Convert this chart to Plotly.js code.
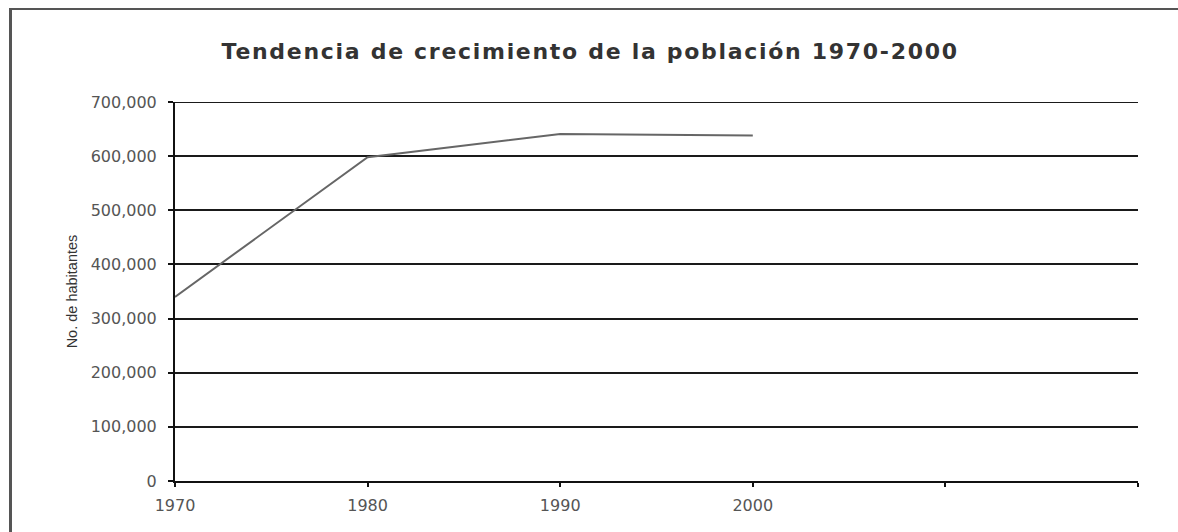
<!DOCTYPE html>
<html>
<head>
<meta charset="utf-8">
<script src="https://cdn.plot.ly/plotly-3.0.1.min.js"></script>
<style>
html,body{margin:0;padding:0;background:#fff;}
#chart{width:1178px;height:532px;}
#frame{position:absolute;left:9px;top:8px;width:1169px;height:524px;border-top:2px solid #555;border-left:3px solid #555;pointer-events:none;box-sizing:border-box;}
.gtitle{letter-spacing:1.7px;}
</style>
</head>
<body>
<div id="chart"></div>
<div id="frame"></div>
<script>
const years = [1970, 1980, 1990, 2000];
const population = [340000, 598000, 641000, 638000];
const xTickVals = [1970, 1980, 1990, 2000, 2010, 2020];
const xTickText = ["1970", "1980", "1990", "2000", "", ""];
const yTickVals = [0, 100000, 200000, 300000, 400000, 500000, 600000, 700000];

const trace = {
  x: years, y: population, type: 'scatter', mode: 'lines',
  line: {color: '#666', width: 2},
  hoverinfo: 'skip'
};

const topValue = yTickVals[yTickVals.length - 1];

const layout = {
  width: 1178, height: 532,
  margin: {l: 175, r: 40, t: 102, b: 51},
  paper_bgcolor: '#fff', plot_bgcolor: '#fff',
  showlegend: false,
  title: {
    text: '<b>Tendencia de crecimiento de la población 1970-2000</b>',
    x: 0.501, xanchor: 'center', xref: 'container',
    y: 48, yref: 'container', yanchor: 'middle',
    font: {family: 'DejaVu Sans, sans-serif', size: 22, color: '#333'}
  },
  shapes: [{
    type: 'line', xref: 'paper', yref: 'y', x0: 0, x1: 1, y0: topValue, y1: topValue,
    line: {color: '#1a1a1a', width: 2}, layer: 'below'
  }],
  xaxis: {
    range: [1970, 2020], tickvals: xTickVals, ticktext: xTickText,
    showgrid: false, zeroline: false,
    showline: true, linecolor: '#111', linewidth: 2,
    ticks: 'outside', ticklen: 4, tickwidth: 2, tickcolor: '#111',
    ticklabelstandoff: 5,
    tickfont: {family: 'DejaVu Sans, sans-serif', size: 16, color: '#555'},
    fixedrange: true
  },
  yaxis: {
    range: [0, 700000], tickvals: yTickVals, tickformat: ',d',
    showgrid: true, gridcolor: '#1a1a1a', gridwidth: 2,
    zeroline: false,
    showline: true, linecolor: '#111', linewidth: 2,
    ticks: 'outside', ticklen: 5, tickwidth: 2, tickcolor: '#111',
    ticklabelstandoff: 8,
    tickfont: {family: 'DejaVu Sans, sans-serif', size: 16, color: '#555'},
    title: {text: 'No. de habitantes', font: {family: 'Liberation Sans, sans-serif', size: 14.5, color: '#333'}, standoff: 10},
    fixedrange: true
  }
};

Plotly.newPlot('chart', [trace], layout, {staticPlot: true, displayModeBar: false});
</script>
</body>
</html>
